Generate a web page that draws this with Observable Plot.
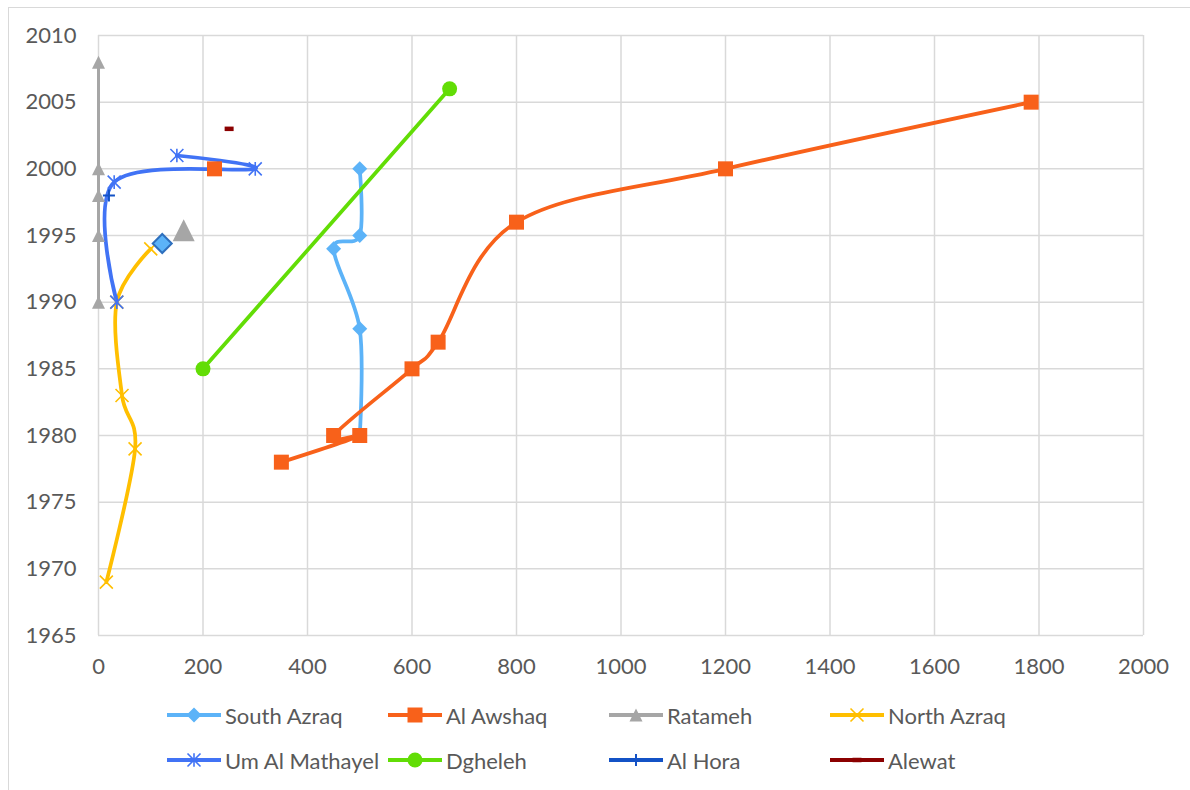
<!DOCTYPE html>
<html>
<head>
<meta charset="utf-8">
<script src="https://cdn.jsdelivr.net/npm/d3@7"></script>
<script src="https://cdn.jsdelivr.net/npm/@observablehq/plot@0.6"></script>
<style>
  html, body { margin: 0; padding: 0; background: #fff; overflow: hidden; }
  body { width: 1190px; height: 790px; position: relative; font-family: Lato, "Open Sans", sans-serif; }
  #frame { position: absolute; left: 8px; top: 7px; width: 1200px; height: 800px; border: 1px solid #d9d9d9; box-sizing: border-box; }
  #chart { position: absolute; left: 0; top: 0; }
  #legend { position: absolute; left: 167px; top: 697px; display: grid; grid-template-columns: repeat(4, 221px); grid-auto-rows: 45px; }
  .item { display: flex; align-items: center; height: 36px; color: #595959; font-size: 22px; }
  .item svg { margin-right: 4px; flex: none; }
</style>
</head>
<body>
<div id="frame"></div>
<div id="chart"></div>
<div id="legend"></div>
<script>
// ---- Data (x value, year) ----
const seriesNames = ["South Azraq", "Al Awshaq", "Ratameh", "North Azraq", "Um Al Mathayel", "Dgheleh", "Al Hora", "Alewat"];
const southAzraqX = [500, 500, 450, 500, 500];
const southAzraqY = [1980, 1988, 1994, 1995, 2000];
const alAwshaqX = [350, 500, 450, 600, 650, 800, 1200, 1785];
const alAwshaqY = [1978, 1980, 1980, 1985, 1987, 1996, 2000, 2005];
const ratamehX = [0, 0, 0, 0, 0];
const ratamehY = [1990, 1995, 1998, 2000, 2008];
const northAzraqX = [15, 70, 45, 35, 100];
const northAzraqY = [1969, 1979, 1983, 1990, 1994];
const umAlMathayelX = [35, 30, 300, 150];
const umAlMathayelY = [1990, 1999, 2000, 2001];
const dghelehX = [200, 672];
const dghelehY = [1985, 2006];
const alHoraX = [20];
const alHoraY = [1998];
const alewatX = [250];
const alewatY = [2003];
// stand-alone highlighted markers (not in legend)
const extraSeries = ["South Azraq", "Ratameh", "Al Awshaq"];
const extraX = [122, 163, 222];
const extraY = [1994.4, 1995.4, 2000];

const xTicks = [0, 200, 400, 600, 800, 1000, 1200, 1400, 1600, 1800, 2000];
const yTicks = [1965, 1970, 1975, 1980, 1985, 1990, 1995, 2000, 2005, 2010];

// ---- Styles ----
const colors = {
  "South Azraq": "#5cb3f8", "Al Awshaq": "#f8611a", "Ratameh": "#a6a6a6", "North Azraq": "#ffbf00",
  "Um Al Mathayel": "#4173f5", "Dgheleh": "#62dd06", "Al Hora": "#1352c6", "Alewat": "#8b0000"
};
const smooth = { "South Azraq": true, "Al Awshaq": true, "Ratameh": false, "North Azraq": true,
  "Um Al Mathayel": true, "Dgheleh": false, "Al Hora": false, "Alewat": false };

function sym(fn) { return { draw(ctx, size) { fn(ctx, Math.sqrt(size / Math.PI)); } }; }
const symbols = {
  diamond: sym((c, r) => { c.moveTo(0, -r); c.lineTo(r, 0); c.lineTo(0, r); c.lineTo(-r, 0); c.closePath(); }),
  square: sym((c, r) => { c.moveTo(-r, -r); c.lineTo(r, -r); c.lineTo(r, r); c.lineTo(-r, r); c.closePath(); }),
  triangle: sym((c, r) => { c.moveTo(0, -r); c.lineTo(r, r); c.lineTo(-r, r); c.closePath(); }),
  cross: sym((c, r) => { c.moveTo(-r, -r); c.lineTo(r, r); c.moveTo(r, -r); c.lineTo(-r, r); }),
  star: sym((c, r) => { c.moveTo(-r, -r); c.lineTo(r, r); c.moveTo(r, -r); c.lineTo(-r, r); c.moveTo(0, -r * 1.05); c.lineTo(0, r * 1.05); }),
  plus: sym((c, r) => { c.moveTo(-r, 0); c.lineTo(r, 0); c.moveTo(0, -r); c.lineTo(0, r); }),
  dash: sym((c, r) => { c.moveTo(-r, -r * 0.5); c.lineTo(r, -r * 0.5); c.lineTo(r, r * 0.5); c.lineTo(-r, r * 0.5); c.closePath(); }),
  circle: sym((c, r) => { c.moveTo(r, 0); c.arc(0, 0, r, 0, 2 * Math.PI); c.closePath(); })
};
const markers = {
  "South Azraq": { symbol: "diamond", r: 7.5, filled: true },
  "Al Awshaq": { symbol: "square", r: 7.5, filled: true },
  "Ratameh": { symbol: "triangle", r: 6.5, filled: true },
  "North Azraq": { symbol: "cross", r: 6.5, filled: false, sw: 1.6 },
  "Um Al Mathayel": { symbol: "star", r: 6.5, filled: false, sw: 1.6 },
  "Dgheleh": { symbol: "circle", r: 7.5, filled: true },
  "Al Hora": { symbol: "plus", r: 6, filled: false, sw: 2 },
  "Alewat": { symbol: "dash", r: 4.5, filled: true }
};

const xs = [southAzraqX, alAwshaqX, ratamehX, northAzraqX, umAlMathayelX, dghelehX, alHoraX, alewatX];
const ys = [southAzraqY, alAwshaqY, ratamehY, northAzraqY, umAlMathayelY, dghelehY, alHoraY, alewatY];
const series = seriesNames.map((name, i) => ({ name, data: xs[i].map((x, j) => ({ x, y: ys[i][j] })) }));

const marks = [
  Plot.gridX(xTicks, { stroke: "#d9d9d9", strokeOpacity: 1, strokeWidth: 1.5 }),
  Plot.gridY(yTicks, { stroke: "#d9d9d9", strokeOpacity: 1, strokeWidth: 1.5 }),
  Plot.axisX(xTicks, { tickSize: 0, tickPadding: 23, fontSize: 22, fill: "#595959", label: null, tickFormat: d => String(d) }),
  Plot.axisY(yTicks, { tickSize: 0, tickPadding: 22, fontSize: 22, fill: "#595959", label: null, tickFormat: d => String(d) })
];
// lines first
for (const s of series) {
  if (s.data.length > 1) {
    marks.push(Plot.line(s.data, { x: "x", y: "y", stroke: colors[s.name], strokeWidth: s.name === "Ratameh" ? 3 : 3.75,
      curve: smooth[s.name] ? "cardinal" : "linear", strokeLinejoin: "round" }));
  }
}
// markers
for (const s of series) {
  const m = markers[s.name];
  marks.push(Plot.dot(s.data, { x: "x", y: "y", symbol: symbols[m.symbol], r: m.r,
    fill: m.filled ? colors[s.name] : "none", stroke: m.filled ? "none" : colors[s.name], strokeWidth: m.sw || 1 }));
}
// extra markers
const extra = extraSeries.map((name, i) => ({ name, x: extraX[i], y: extraY[i] }));
marks.push(Plot.dot(extra.filter(d => d.name === "South Azraq"), { x: "x", y: "y", symbol: symbols.diamond, r: 9.5, fill: colors["South Azraq"], stroke: "#2e6fbd", strokeWidth: 2 }));
marks.push(Plot.dot(extra.filter(d => d.name === "Ratameh"), { x: "x", y: "y", symbol: symbols.triangle, r: 11, fill: colors["Ratameh"] }));
marks.push(Plot.dot(extra.filter(d => d.name === "Al Awshaq"), { x: "x", y: "y", symbol: symbols.square, r: 7.5, fill: colors["Al Awshaq"] }));

const chart = Plot.plot({
  width: 1190, height: 680,
  marginLeft: 98, marginRight: 47, marginTop: 35, marginBottom: 45,
  style: { fontFamily: "Lato, 'Open Sans', sans-serif", background: "transparent", overflow: "visible" },
  x: { domain: [0, 2000] },
  y: { domain: [1965, 2010] },
  marks
});
document.getElementById("chart").appendChild(chart);

// ---- Legend ----
const legend = document.getElementById("legend");
for (const name of seriesNames) {
  const m = markers[name];
  const item = document.createElement("div");
  item.className = "item";
  const p = d3.path();
  symbols[m.symbol].draw(p, m.r * m.r * Math.PI);
  const c = colors[name];
  item.innerHTML = `<svg width="54" height="24" viewBox="0 0 54 24">
    <line x1="0" y1="12" x2="54" y2="12" stroke="${c}" stroke-width="4" stroke-linecap="round"/>
    <path transform="translate(27,12)" d="${p.toString()}" fill="${m.filled ? c : "none"}" stroke="${m.filled ? "none" : c}" stroke-width="${m.sw || 1}"/>
  </svg><span>${name}</span>`;
  legend.appendChild(item);
}
</script>
</body>
</html>
